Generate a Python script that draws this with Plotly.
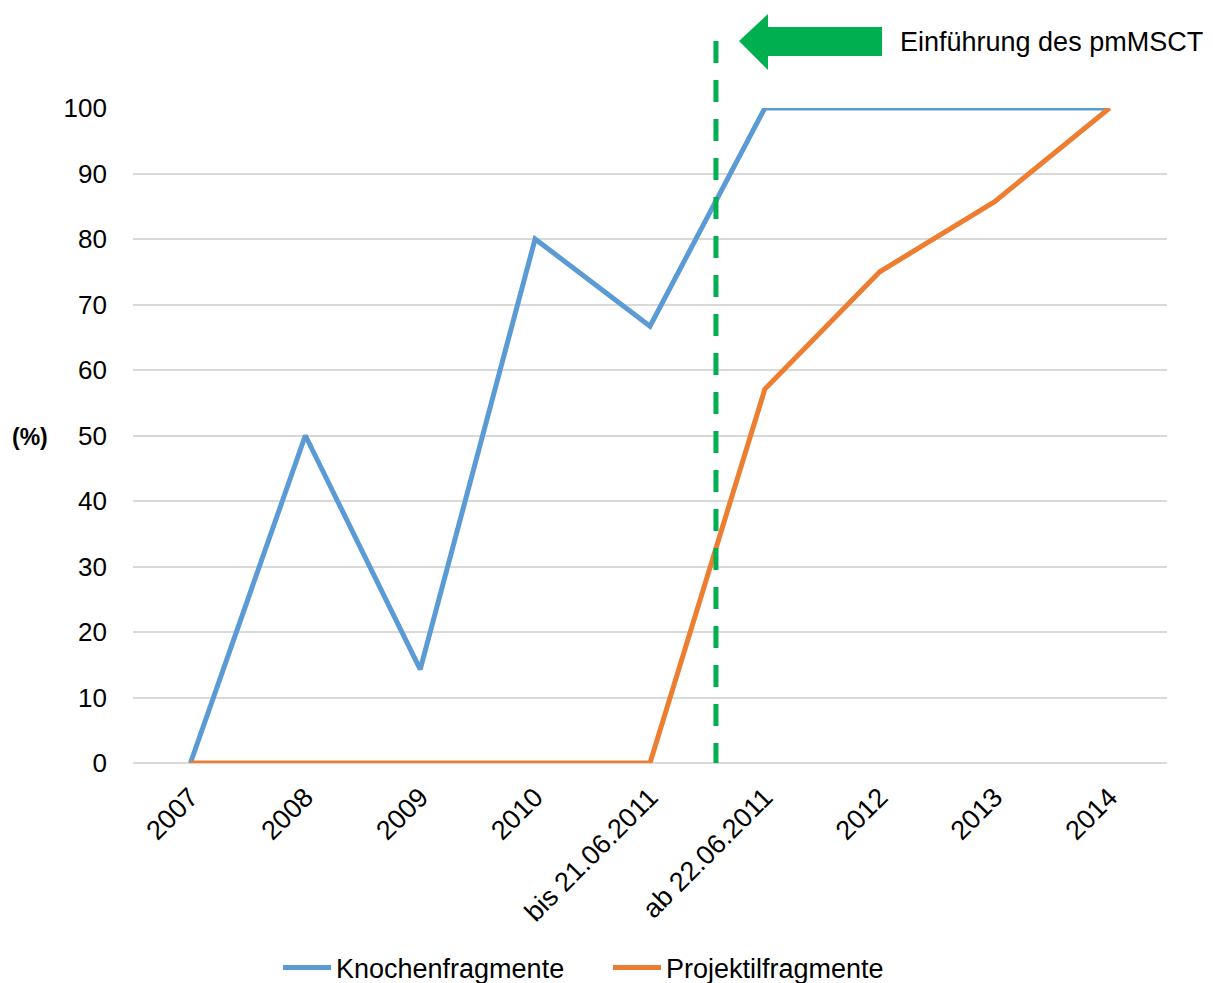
import plotly.graph_objects as go

# Categories and series values (%)
categories = ["2007", "2008", "2009", "2010", "bis 21.06.2011",
              "ab 22.06.2011", "2012", "2013", "2014"]
knochen = [0, 50, 14.3, 80, 66.7, 100, 100, 100, 100]
projektil = [0, 0, 0, 0, 0, 57.1, 75, 85.7, 100]
y_ticks = [0, 10, 20, 30, 40, 50, 60, 70, 80, 90, 100]

# Position of the pmMSCT introduction marker (between the two 2011 categories)
intro_x = 4.574

W, H = 1213, 983
L, R, T, B = 133, 46, 108, 220
PW, PH = W - L - R, H - T - B


def px_x(px):
    return (px - L) / PW


def px_y(py):
    return (H - B - py) / PH


BLUE = "#5B9BD5"
ORANGE = "#ED7D31"
GREEN = "#00B050"
GRID = "#D9D9D9"
FONT = "Liberation Sans, Arial, sans-serif"

fig = go.Figure()
fig.add_trace(go.Scatter(x=categories, y=knochen, mode="lines", name="Knochenfragmente",
                         line=dict(color=BLUE, width=5), cliponaxis=False))
fig.add_trace(go.Scatter(x=categories, y=projektil, mode="lines", name="Projektilfragmente",
                         line=dict(color=ORANGE, width=5), cliponaxis=False))

# dashed vertical marker (drawn top-down so the pattern starts at the top)
fig.add_shape(type="line", xref="x", yref="paper", x0=intro_x, x1=intro_x,
              y0=px_y(41), y1=0, line=dict(color=GREEN, width=5, dash="22px,17px"),
              layer="above")

# block arrow pointing left
pts = [(739, 41), (768, 14), (768, 27), (882, 27), (882, 56), (768, 56), (768, 70)]
path = "M " + " L ".join(f"{px_x(a):.5f},{px_y(b):.5f}" for a, b in pts) + " Z"
fig.add_shape(type="path", xref="paper", yref="paper", path=path,
              fillcolor=GREEN, line=dict(width=0), layer="above")

fig.add_annotation(text="Einführung des pmMSCT", xref="paper", yref="paper",
                   x=px_x(898), y=px_y(42), xanchor="left", yanchor="middle",
                   showarrow=False, font=dict(family=FONT, size=27, color="#000000"))
fig.add_annotation(text="<b>(%)</b>", xref="paper", yref="paper",
                   x=px_x(30), y=px_y(437), xanchor="center", yanchor="middle",
                   showarrow=False, font=dict(family=FONT, size=23, color="#000000"))

fig.update_layout(
    width=W, height=H,
    margin=dict(l=L, r=R, t=T, b=B, pad=0, autoexpand=False),
    paper_bgcolor="white", plot_bgcolor="white",
    font=dict(family=FONT, size=27, color="#000000"),
    showlegend=True,
    legend=dict(orientation="h", x=px_x(278), y=(H - 968) / H, yref="container",
                xanchor="left", yanchor="middle",
                font=dict(family=FONT, size=27, color="#000000"),
                itemwidth=48, entrywidth=267, entrywidthmode="pixels",
                tracegroupgap=0, bgcolor="rgba(0,0,0,0)"),
    xaxis=dict(type="category", categoryorder="array", categoryarray=categories,
               range=[-0.5, len(categories) - 0.5], showgrid=False, zeroline=False,
               showline=False, tickangle=-45, ticks="", automargin=False,
               ticklabelstandoff=12, tickfont=dict(size=27)),
    yaxis=dict(range=[0, 100], tickvals=y_ticks, showgrid=True, gridcolor=GRID, gridwidth=1.5,
               zeroline=True, zerolinecolor=GRID, zerolinewidth=1.5, showline=False,
               ticks="", automargin=False, ticklabelstandoff=25, tickfont=dict(size=26)),
)

fig.write_html("out.html")
